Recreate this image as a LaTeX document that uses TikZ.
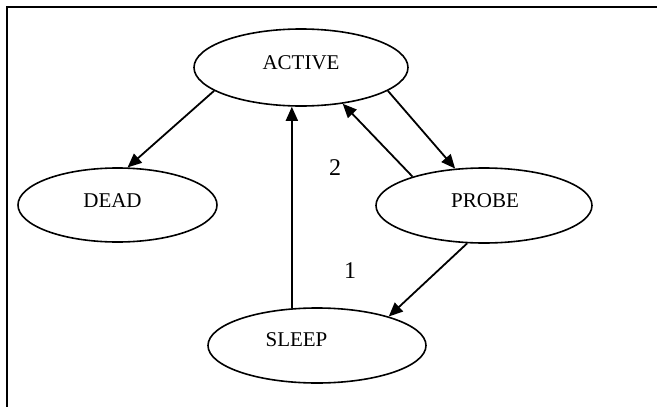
\documentclass[tikz,border=0pt]{standalone}
\usepackage{fontspec}
\setmainfont{Liberation Serif}
\usepackage{tikz}
\usetikzlibrary{shapes.geometric, arrows.meta}

\begin{document}
\begin{tikzpicture}[x=1pt, y=-1pt,
    state/.style={draw, ellipse, line width=1.6pt, inner sep=0pt},
    statename/.style={font=\fontsize{21}{24}\selectfont, inner sep=0pt},
    trans/.style={line width=1.8pt, -{Triangle[length=14pt, width=12pt]}},
    order/.style={font=\fontsize{24}{28}\selectfont, inner sep=0pt}]
  \useasboundingbox (0,0) rectangle (657,407);
  % frame: only the top and left edges show
  \draw[line width=2pt] (7,407) -- (7,7) -- (657,7);
  % states
  \node[state, minimum width=214pt, minimum height=77pt,
    label={[statename, yshift=4.8pt]center:ACTIVE}] (active) at (301,67.5) {};
  \node[state, minimum width=199pt, minimum height=74pt,
    label={[statename, xshift=-5pt, yshift=4.3pt]center:DEAD}] (dead) at (117.5,205) {};
  \node[state, minimum width=216pt, minimum height=75pt,
    label={[statename, xshift=1pt, yshift=4.8pt]center:PROBE}] (probe) at (484,205.5) {};
  \node[state, minimum width=218pt, minimum height=75pt,
    label={[statename, xshift=-20.5pt, yshift=5.5pt]center:SLEEP}] (sleep) at (317,345.5) {};
  % transitions
  \draw[trans] (active.195) -- (dead.75);
  \draw[trans] (active.345) -- (probe.128);
  \draw[trans] (probe.158) -- (active.319);
  \draw[trans] (sleep.124) -- (sleep.124 |- active.south);
  \draw[trans] (probe.246) -- (sleep.22);
  % numbers
  \node[order] (two) at (335,168) {2};
  \node[order] (one) at (350,271) {1};
\end{tikzpicture}
\end{document}
